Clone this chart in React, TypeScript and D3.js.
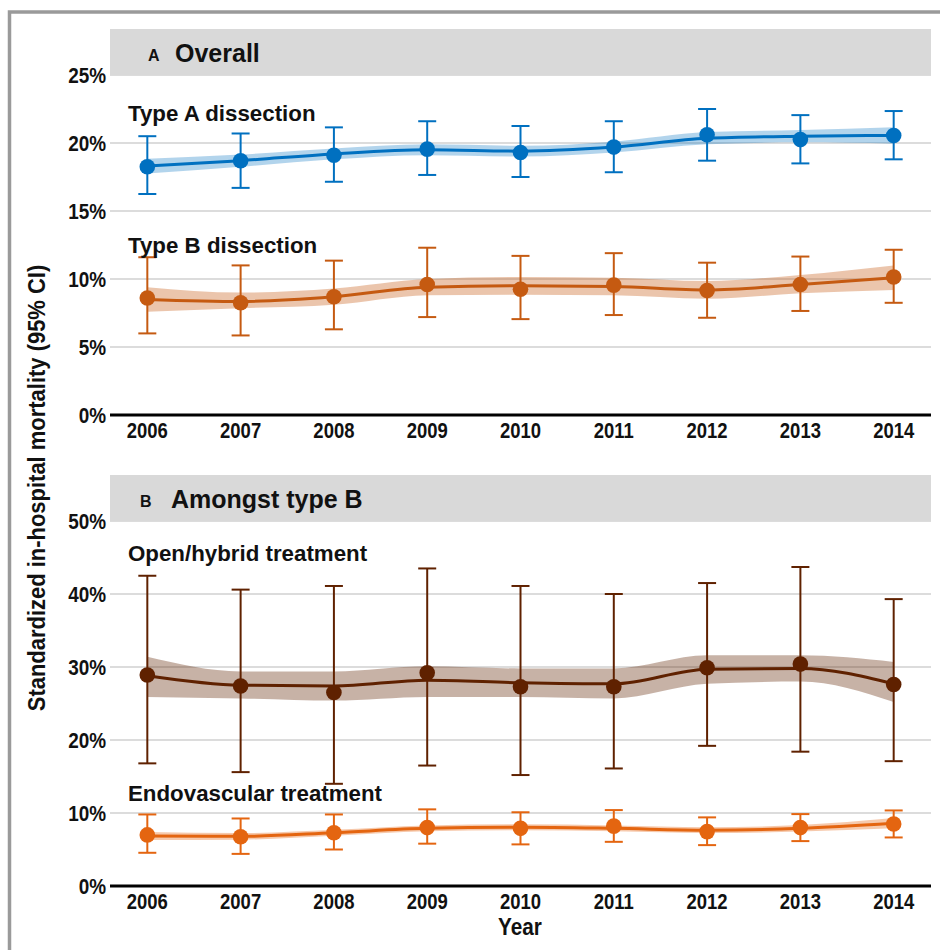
import React from "react";
import * as d3 from "d3";

// Calendar years on the x axis
const years = [2006, 2007, 2008, 2009, 2010, 2011, 2012, 2013, 2014];

// Panel A – Type A dissection (%)
const typeAEst = [18.25, 18.7, 19.1, 19.55, 19.3, 19.7, 20.6, 20.25, 20.55];
const typeALo = [16.25, 16.7, 17.15, 17.65, 17.5, 17.85, 18.7, 18.5, 18.8];
const typeAHi = [20.5, 20.7, 21.15, 21.6, 21.25, 21.6, 22.5, 22.05, 22.35];
const typeAFit = [18.3, 18.7, 19.2, 19.5, 19.4, 19.7, 20.35, 20.5, 20.55];
const typeAFitLo = [17.75, 18.25, 18.8, 19.1, 19.0, 19.3, 19.9, 20.05, 19.95];
const typeAFitHi = [18.85, 19.15, 19.6, 19.9, 19.8, 20.1, 20.8, 20.95, 21.15];

// Panel A – Type B dissection (%)
const typeBEst = [8.6, 8.25, 8.7, 9.6, 9.25, 9.55, 9.15, 9.6, 10.15];
const typeBLo = [6.0, 5.85, 6.3, 7.2, 7.05, 7.35, 7.15, 7.65, 8.25];
const typeBHi = [11.6, 11.0, 11.35, 12.3, 11.7, 11.9, 11.2, 11.65, 12.15];
const typeBFit = [8.5, 8.35, 8.7, 9.4, 9.5, 9.45, 9.2, 9.6, 10.1];
const typeBFitLo = [7.6, 7.85, 8.1, 8.8, 8.85, 8.8, 8.55, 8.95, 9.2];
const typeBFitHi = [9.4, 9.0, 9.3, 10.0, 10.15, 10.1, 9.85, 10.3, 11.0];

// Panel B – Open/hybrid treatment (%)
const openEst = [28.9, 27.4, 26.5, 29.2, 27.3, 27.3, 29.9, 30.4, 27.6];
const openLo = [16.8, 15.6, 14.0, 16.5, 15.2, 16.1, 19.2, 18.4, 17.1];
const openHi = [42.5, 40.6, 41.1, 43.5, 41.1, 40.0, 41.5, 43.7, 39.3];
const openFit = [28.8, 27.5, 27.4, 28.2, 27.85, 27.7, 29.7, 29.8, 27.7];
const openFitLo = [25.9, 25.7, 25.4, 25.9, 25.9, 25.7, 27.7, 28.0, 25.2];
const openFitHi = [31.4, 29.4, 29.4, 30.1, 29.8, 29.8, 31.6, 31.6, 30.7];

// Panel B – Endovascular treatment (%)
const endoEst = [7.0, 6.75, 7.3, 8.0, 7.9, 8.2, 7.45, 8.0, 8.5];
const endoLo = [4.55, 4.4, 5.0, 5.8, 5.7, 6.05, 5.6, 6.15, 6.65];
const endoHi = [9.8, 9.25, 9.8, 10.5, 10.1, 10.4, 9.4, 9.85, 10.35];
const endoFit = [6.85, 6.8, 7.3, 7.9, 8.05, 7.9, 7.65, 7.9, 8.6];
const endoFitLo = [6.3, 6.35, 6.9, 7.5, 7.65, 7.5, 7.25, 7.45, 7.9];
const endoFitHi = [7.4, 7.25, 7.7, 8.3, 8.45, 8.3, 8.05, 8.35, 9.3];

// Axis ticks (%)
const ticksA = [0, 5, 10, 15, 20, 25];
const ticksB = [0, 10, 20, 30, 40, 50];

const FONT = "'Liberation Sans', Arial, Helvetica, sans-serif";

type Series = {
  label: string;
  color: string;
  bandOpacity: number;
  est: number[];
  lo: number[];
  hi: number[];
  fit: number[];
  fitLo: number[];
  fitHi: number[];
  labelY: number;
};

const W = 940;
const H = 950;
const plotLeft = 110;
const plotRight = 931;

const x = d3
  .scalePoint<number>()
  .domain(years)
  .range([plotLeft, plotRight])
  .padding(0.4);

function Txt(props: {
  x: number;
  y: number;
  size: number;
  sx?: number;
  anchor?: "start" | "middle" | "end";
  rotate?: number;
  fill?: string;
  children: React.ReactNode;
}) {
  const { x, y, size, sx = 1, anchor = "start", rotate, fill = "#111" } = props;
  const tf = `translate(${x},${y})${rotate ? ` rotate(${rotate})` : ""} scale(${sx},1)`;
  return (
    <text
      transform={tf}
      fontSize={size}
      fontWeight="bold"
      fontFamily={FONT}
      textAnchor={anchor}
      fill={fill}
    >
      {props.children}
    </text>
  );
}

function SeriesMarks({ s, y }: { s: Series; y: d3.ScaleLinear<number, number> }) {
  const band = d3
    .area<number>()
    .x((_, i) => x(years[i])!)
    .y0((_, i) => y(s.fitLo[i]))
    .y1((_, i) => y(s.fitHi[i]))
    .curve(d3.curveMonotoneX);
  const line = d3
    .line<number>()
    .x((_, i) => x(years[i])!)
    .y((d) => y(d))
    .curve(d3.curveMonotoneX);
  const cap = 9;
  return (
    <g>
      <path d={band(s.fit) || ""} fill={s.color} fillOpacity={s.bandOpacity} stroke="none" />
      {years.map((yr, i) => {
        const cx = x(yr)!;
        return (
          <g key={yr} stroke={s.color} strokeWidth={2} fill="none">
            <line x1={cx} x2={cx} y1={y(s.lo[i])} y2={y(s.hi[i])} />
            <line x1={cx - cap} x2={cx + cap} y1={y(s.lo[i])} y2={y(s.lo[i])} />
            <line x1={cx - cap} x2={cx + cap} y1={y(s.hi[i])} y2={y(s.hi[i])} />
          </g>
        );
      })}
      <path d={line(s.fit) || ""} fill="none" stroke={s.color} strokeWidth={3} />
      {years.map((yr, i) => (
        <circle key={yr} cx={x(yr)!} cy={y(s.est[i])} r={7.8} fill={s.color} />
      ))}
    </g>
  );
}

function Panel(props: {
  y: d3.ScaleLinear<number, number>;
  ticks: number[];
  letter: string;
  title: string;
  letterX: number;
  titleX: number;
  series: Series[];
}) {
  const { y, ticks, series } = props;
  const [y0, yTop] = y.range();
  const headTop = yTop - 46;
  return (
    <g>
      {ticks.slice(1).map((t) => (
        <line
          key={t}
          x1={plotLeft}
          x2={plotRight}
          y1={y(t)}
          y2={y(t)}
          stroke="#dcdcdc"
          strokeWidth={2}
        />
      ))}
      <rect x={plotLeft} y={headTop} width={plotRight - plotLeft} height={yTop - headTop} fill="#d9d9d9" />
      <Txt x={props.letterX} y={headTop + 32} size={16}>
        {props.letter}
      </Txt>
      <Txt x={props.titleX} y={headTop + 33} size={25}>
        {props.title}
      </Txt>
      {ticks.map((t) => (
        <Txt key={t} x={106} y={y(t) + 8} size={22} sx={0.86} anchor="end">
          {`${t}%`}
        </Txt>
      ))}
      {series.map((s) => (
        <g key={s.label}>
          <SeriesMarks s={s} y={y} />
          <Txt x={128} y={s.labelY} size={22.3}>
            {s.label}
          </Txt>
        </g>
      ))}
      <line x1={plotLeft} x2={plotRight} y1={y0} y2={y0} stroke="#000" strokeWidth={3} />
      {years.map((yr) => (
        <Txt key={yr} x={x(yr)!} y={y0 + 23} size={22} sx={0.84} anchor="middle">
          {String(yr)}
        </Txt>
      ))}
    </g>
  );
}

export default function App() {
  const yA = d3.scaleLinear().domain([0, 25]).range([415, 75]);
  const yB = d3.scaleLinear().domain([0, 50]).range([886, 521]);

  const seriesA: Series[] = [
    {
      label: "Type A dissection",
      color: "#0070C0",
      bandOpacity: 0.3,
      est: typeAEst,
      lo: typeALo,
      hi: typeAHi,
      fit: typeAFit,
      fitLo: typeAFitLo,
      fitHi: typeAFitHi,
      labelY: 121,
    },
    {
      label: "Type B dissection",
      color: "#C55A11",
      bandOpacity: 0.35,
      est: typeBEst,
      lo: typeBLo,
      hi: typeBHi,
      fit: typeBFit,
      fitLo: typeBFitLo,
      fitHi: typeBFitHi,
      labelY: 253,
    },
  ];
  const seriesB: Series[] = [
    {
      label: "Open/hybrid treatment",
      color: "#5F2100",
      bandOpacity: 0.35,
      est: openEst,
      lo: openLo,
      hi: openHi,
      fit: openFit,
      fitLo: openFitLo,
      fitHi: openFitHi,
      labelY: 561,
    },
    {
      label: "Endovascular treatment",
      color: "#E46510",
      bandOpacity: 0.35,
      est: endoEst,
      lo: endoLo,
      hi: endoHi,
      fit: endoFit,
      fitLo: endoFitLo,
      fitHi: endoFitHi,
      labelY: 801,
    },
  ];

  return (
    <svg
      width={W}
      height={H}
      viewBox={`0 0 ${W} ${H}`}
      style={{ position: "absolute", left: 0, top: 0, background: "#fff", display: "block" }}
    >
      <rect x={0} y={0} width={W} height={H} fill="#fff" />
      <rect x={9.5} y={12} width={1000} height={1000} fill="none" stroke="#9a9a9a" strokeWidth={3.5} />
      <Panel
        y={yA}
        ticks={ticksA}
        letter="A"
        title="Overall"
        letterX={148}
        titleX={175}
        series={seriesA}
      />
      <Panel
        y={yB}
        ticks={ticksB}
        letter="B"
        title="Amongst type B"
        letterX={140}
        titleX={171}
        series={seriesB}
      />
      <Txt x={45} y={488} size={24} sx={0.915} anchor="middle" rotate={-90}>
        Standardized in-hospital mortality (95% CI)
      </Txt>
      <Txt x={520} y={935} size={24} sx={0.865} anchor="middle">
        Year
      </Txt>
    </svg>
  );
}
